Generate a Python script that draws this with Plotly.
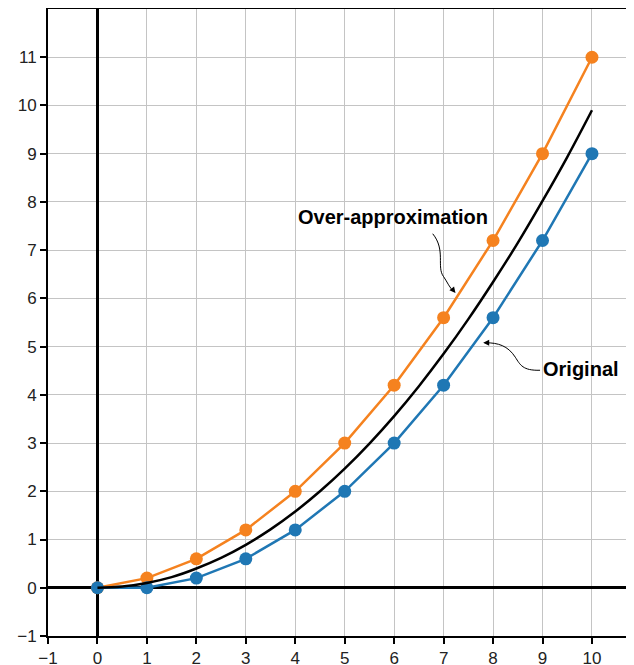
import plotly.graph_objects as go

x_pts = [0, 1, 2, 3, 4, 5, 6, 7, 8, 9, 10]
over_vals = [0, 0.2, 0.6, 1.2, 2.0, 3.0, 4.2, 5.6, 7.2, 9.0, 11.0]
orig_vals = [0, 0, 0.2, 0.6, 1.2, 2.0, 3.0, 4.2, 5.6, 7.2, 9.0]
curve_x = [0, 0.5, 1, 1.5, 2, 2.5, 3, 3.5, 4, 4.5, 5, 5.5, 6, 6.5, 7, 7.5, 8, 8.5, 9, 9.5, 10]
curve_y = [0, 0.025, 0.1, 0.22, 0.4, 0.62, 0.89, 1.21, 1.58, 2.0, 2.47, 2.99, 3.56, 4.18, 4.85, 5.57, 6.34, 7.15, 8.02, 8.93, 9.9]
x_ticks = list(range(-1, 11))
y_ticks = list(range(-1, 12))

ORANGE = "#f5821f"
BLUE = "#1f77b4"

fig = go.Figure()
fig.add_trace(go.Scatter(x=x_pts, y=over_vals, mode="lines+markers",
                         line=dict(color=ORANGE, width=2.5),
                         marker=dict(color=ORANGE, size=13), showlegend=False))
fig.add_trace(go.Scatter(x=x_pts, y=orig_vals, mode="lines+markers",
                         line=dict(color=BLUE, width=2.5),
                         marker=dict(color=BLUE, size=13), showlegend=False))
fig.add_trace(go.Scatter(x=curve_x, y=curve_y, mode="lines", line_shape="spline",
                         line=dict(color="black", width=2.5), showlegend=False))

# curvy arrow paths (data coords)
fig.add_shape(type="path",
              path="M 6.78,7.34 C 7.05,7.0 6.85,6.65 7.0,6.45 C 7.08,6.33 7.12,6.22 7.2,6.15",
              line=dict(color="black", width=1), layer="above")
fig.add_shape(type="path",
              path="M 8.95,4.51 C 8.6,4.5 8.55,4.62 8.45,4.78 C 8.3,5.02 8.1,5.08 7.85,5.08",
              line=dict(color="black", width=1), layer="above")

ann_font = dict(family="Liberation Sans Narrow, Arial Narrow, Liberation Sans, sans-serif", size=20, color="black")
fig.add_annotation(x=5.98, y=7.69, text="<b>Over-approximation</b>", showarrow=False, font=ann_font)
fig.add_annotation(x=9.78, y=4.53, text="<b>Original</b>", showarrow=False, font=ann_font)
# arrowheads
fig.add_annotation(x=7.24, y=6.11, ax=7.17, ay=6.2, axref="x", ayref="y", xref="x", yref="y",
                   text="", showarrow=True, arrowhead=2, arrowsize=1.2, arrowwidth=1, arrowcolor="black")
fig.add_annotation(x=7.8, y=5.08, ax=7.9, ay=5.08, axref="x", ayref="y", xref="x", yref="y",
                   text="", showarrow=True, arrowhead=2, arrowsize=1.2, arrowwidth=1, arrowcolor="black")

fig.update_layout(
    width=626, height=657,
    margin=dict(l=40, r=0, t=1, b=29),
    plot_bgcolor="white", paper_bgcolor="white",
    font=dict(family="Liberation Sans, Arial, sans-serif", size=17, color="#222"),
    xaxis=dict(range=[-1, 10.85], tickvals=x_ticks, showgrid=True, gridcolor="#c4c4c4", gridwidth=1,
               zeroline=True, zerolinecolor="black", zerolinewidth=2.5,
               showline=True, linecolor="black", linewidth=2, mirror=True,
               ticks="outside", ticklen=6, tickwidth=2, tickcolor="black", automargin=False),
    yaxis=dict(range=[-1, 12], tickvals=y_ticks, showgrid=True, gridcolor="#c4c4c4", gridwidth=1,
               zeroline=True, zerolinecolor="black", zerolinewidth=2.5,
               showline=True, linecolor="black", linewidth=2,
               ticks="outside", ticklen=6, tickwidth=2, tickcolor="black", automargin=False),
)
fig.write_html("out.html")
